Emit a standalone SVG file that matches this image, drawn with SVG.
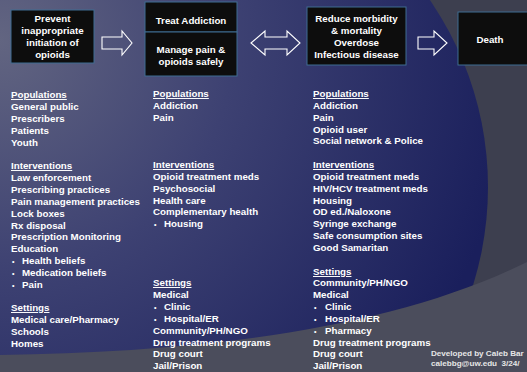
<svg xmlns="http://www.w3.org/2000/svg" width="527" height="372" viewBox="0 0 527 372">
<defs>
<radialGradient id="bg" gradientUnits="userSpaceOnUse" cx="0" cy="40" r="520">
<stop offset="0" stop-color="#626581"/>
<stop offset="0.45" stop-color="#3d4172"/>
<stop offset="1" stop-color="#1a1f5c"/>
</radialGradient>
<style>
.t{font-family:"Liberation Sans",Arial,sans-serif;font-weight:bold;font-size:9.75px;fill:#ffffff}
.c{text-anchor:middle}
.h{text-decoration:underline}
.b{font-size:7px}
.box{fill:#0d0d0d;stroke:#3f6d92;stroke-width:1}
.arr{fill:none;stroke:#ffffff;stroke-width:1.1;stroke-linejoin:miter}
.cr{font-family:"Liberation Sans",Arial,sans-serif;font-weight:bold;font-size:8.1px;fill:#e6e6e6}
</style>
</defs>
<g id="background">
<rect x="0" y="0" width="527" height="372" fill="#3d3f4f"/>
<circle cx="158" cy="187" r="330" fill="url(#bg)"/>
<path d="M0,355 C200,352 390,330 527,262 L527,372 L0,372 Z" fill="#4b4d5c"/>
</g>
<g id="connectors">
<path class="arr" d="M102,37 L122,37 L122,31 L132,43 L122,55 L122,49 L102,49 Z"/>
<path class="arr" d="M251,43 L265,31 L265,37 L287,37 L287,31 L300,43 L287,55 L287,49 L265,49 L265,55 Z"/>
<path class="arr" d="M418,37 L434,37 L434,31 L447,43 L434,55 L434,49 L418,49 Z"/>
</g>
<g id="node-prevent">
<rect class="box" x="11" y="10" width="83" height="53"/>
<text class="t c" x="52.5" y="22">Prevent</text>
<text class="t c" x="52.5" y="34">inappropriate</text>
<text class="t c" x="52.5" y="46">initiation of</text>
<text class="t c" x="52.5" y="58">opioids</text>
</g>
<g id="node-treat">
<rect class="box" x="145" y="2" width="92" height="30"/>
<text class="t c" x="191" y="24">Treat Addiction</text>
</g>
<g id="node-manage">
<rect class="box" x="145" y="32" width="92" height="44"/>
<text class="t c" x="191" y="52.5">Manage pain &amp;</text>
<text class="t c" x="191" y="64.5">opioids safely</text>
</g>
<g id="node-reduce">
<rect class="box" x="307" y="7" width="99" height="58"/>
<text class="t c" x="356.5" y="22">Reduce morbidity</text>
<text class="t c" x="356.5" y="34">&amp; mortality</text>
<text class="t c" x="356.5" y="46">Overdose</text>
<text class="t c" x="356.5" y="58">Infectious disease</text>
</g>
<g id="node-death">
<rect class="box" x="458" y="12" width="80" height="53"/>
<text class="t c" x="490" y="43">Death</text>
</g>
<g id="col1">
<text class="t h" x="11" y="98">Populations</text>
<text class="t" x="11" y="110">General public</text>
<text class="t" x="11" y="122">Prescribers</text>
<text class="t" x="11" y="134">Patients</text>
<text class="t" x="11" y="146">Youth</text>
<text class="t h" x="11" y="169">Interventions</text>
<text class="t" x="11" y="181">Law enforcement</text>
<text class="t" x="11" y="193">Prescribing practices</text>
<text class="t" x="11" y="205">Pain management practices</text>
<text class="t" x="11" y="217">Lock boxes</text>
<text class="t" x="11" y="229">Rx disposal</text>
<text class="t" x="11" y="240">Prescription Monitoring</text>
<text class="t" x="11" y="252">Education</text>
<text class="t" y="264"><tspan class="b" x="12">•</tspan><tspan x="22">Health beliefs</tspan></text>
<text class="t" y="276"><tspan class="b" x="12">•</tspan><tspan x="22">Medication beliefs</tspan></text>
<text class="t" y="288"><tspan class="b" x="12">•</tspan><tspan x="22">Pain</tspan></text>
<text class="t h" x="11" y="311">Settings</text>
<text class="t" x="11" y="323">Medical care/Pharmacy</text>
<text class="t" x="11" y="335">Schools</text>
<text class="t" x="11" y="347">Homes</text>
</g>
<g id="col2">
<text class="t h" x="153" y="97">Populations</text>
<text class="t" x="153" y="109">Addiction</text>
<text class="t" x="153" y="121">Pain</text>
<text class="t h" x="153" y="168">Interventions</text>
<text class="t" x="153" y="180">Opioid treatment meds</text>
<text class="t" x="153" y="192">Psychosocial</text>
<text class="t" x="153" y="204">Health care</text>
<text class="t" x="153" y="215">Complementary health</text>
<text class="t" y="227"><tspan class="b" x="154">•</tspan><tspan x="164">Housing</tspan></text>
<text class="t h" x="153" y="286">Settings</text>
<text class="t" x="153" y="298">Medical</text>
<text class="t" y="310"><tspan class="b" x="154">•</tspan><tspan x="164">Clinic</tspan></text>
<text class="t" y="322"><tspan class="b" x="154">•</tspan><tspan x="164">Hospital/ER</tspan></text>
<text class="t" x="153" y="334">Community/PH/NGO</text>
<text class="t" x="153" y="346">Drug treatment programs</text>
<text class="t" x="153" y="357">Drug court</text>
<text class="t" x="153" y="369">Jail/Prison</text>
</g>
<g id="col3">
<text class="t h" x="313" y="97">Populations</text>
<text class="t" x="313" y="109">Addiction</text>
<text class="t" x="313" y="121">Pain</text>
<text class="t" x="313" y="133">Opioid user</text>
<text class="t" x="313" y="144">Social network &amp; Police</text>
<text class="t h" x="313" y="168">Interventions</text>
<text class="t" x="313" y="180">Opioid treatment meds</text>
<text class="t" x="313" y="192">HIV/HCV treatment meds</text>
<text class="t" x="313" y="204">Housing</text>
<text class="t" x="313" y="215">OD ed./Naloxone</text>
<text class="t" x="313" y="227">Syringe exchange</text>
<text class="t" x="313" y="239">Safe consumption sites</text>
<text class="t" x="313" y="251">Good Samaritan</text>
<text class="t h" x="313" y="275">Settings</text>
<text class="t" x="313" y="286">Community/PH/NGO</text>
<text class="t" x="313" y="298">Medical</text>
<text class="t" y="310"><tspan class="b" x="314">•</tspan><tspan x="325">Clinic</tspan></text>
<text class="t" y="322"><tspan class="b" x="314">•</tspan><tspan x="325">Hospital/ER</tspan></text>
<text class="t" y="334"><tspan class="b" x="314">•</tspan><tspan x="325">Pharmacy</tspan></text>
<text class="t" x="313" y="346">Drug treatment programs</text>
<text class="t" x="313" y="357">Drug court</text>
<text class="t" x="313" y="369">Jail/Prison</text>
</g>
<g id="credit">
<text class="cr" x="431" y="356.3">Developed by Caleb Bar</text>
<text class="cr" x="431" y="365.7" xml:space="preserve">calebbg@uw.edu  3/24/</text>
</g>
</svg>
